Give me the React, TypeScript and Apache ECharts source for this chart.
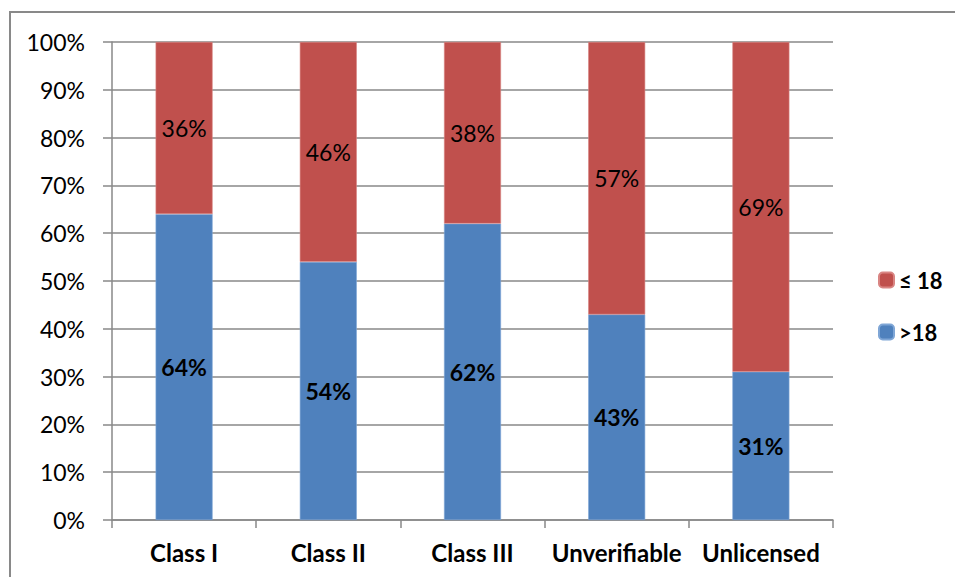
import React, { useEffect, useRef } from "react";
import * as echarts from "echarts";

const categories = ["Class I", "Class II", "Class III", "Unverifiable", "Unlicensed"];
const over18 = [64, 54, 62, 43, 31];
const upTo18 = [36, 46, 38, 57, 69];
const yTicks = [0, 10, 20, 30, 40, 50, 60, 70, 80, 90, 100];
const seriesNames = ["≤ 18", ">18"];

const FONT = "Lato, 'Open Sans', sans-serif";
const GRID_COLOR = "#898989";

export default function App() {
  const ref = useRef<HTMLDivElement>(null);

  useEffect(() => {
    if (!ref.current) return;
    const chart = echarts.init(ref.current, null, { renderer: "svg" });
    chart.setOption({
      animation: false,
      backgroundColor: "#ffffff",
      textStyle: { fontFamily: FONT },
      graphic: [
        {
          type: "rect",
          shape: { x: 10, y: 12, width: 1000, height: 600 },
          style: { fill: "none", stroke: GRID_COLOR, lineWidth: 2 },
          silent: true,
        },
      ],
      grid: { left: 112, right: 122, top: 42, bottom: 57 },
      legend: {
        orient: "vertical",
        left: 873,
        top: 264,
        itemWidth: 15,
        itemHeight: 15,
        itemGap: 30,
        data: seriesNames,
        textStyle: { fontFamily: FONT, fontSize: 22, fontWeight: "bold", color: "#000" },
      },
      xAxis: {
        type: "category",
        data: categories,
        axisLine: { lineStyle: { color: GRID_COLOR, width: 1.5 } },
        axisTick: { show: true, length: 8, lineStyle: { color: GRID_COLOR, width: 1.5 } },
        axisLabel: {
          fontFamily: FONT,
          fontSize: 24,
          fontWeight: "bold",
          color: "#000",
          margin: 20,
          interval: 0,
        },
      },
      yAxis: {
        type: "value",
        min: yTicks[0],
        max: yTicks[yTicks.length - 1],
        interval: 10,
        axisLine: { show: true, lineStyle: { color: GRID_COLOR, width: 1.5 } },
        axisTick: { show: true, length: 9, lineStyle: { color: GRID_COLOR, width: 1.5 } },
        splitLine: { lineStyle: { color: GRID_COLOR, width: 1.5 } },
        axisLabel: {
          fontFamily: FONT,
          fontSize: 23,
          color: "#000",
          margin: 27,
          formatter: (v: number) => `${v}%`,
        },
      },
      series: [
        {
          name: ">18",
          type: "bar",
          stack: "total",
          barWidth: 57,
          data: over18,
          itemStyle: { color: "#4F81BD", borderColor: "#7FA6D6", borderWidth: 0.6 },
          label: {
            show: true,
            position: "inside",
            formatter: "{c}%",
            fontFamily: FONT,
            fontSize: 23,
            fontWeight: "bold",
            color: "#000",
          },
        },
        {
          name: "≤ 18",
          type: "bar",
          stack: "total",
          barWidth: 57,
          data: upTo18,
          itemStyle: { color: "#C0504D", borderColor: "#D98583", borderWidth: 0.6 },
          label: {
            show: true,
            position: "inside",
            formatter: "{c}%",
            fontFamily: FONT,
            fontSize: 23,
            color: "#000",
          },
        },
      ],
    });
    return () => chart.dispose();
  }, []);

  return (
    <div
      ref={ref}
      style={{ position: "fixed", left: 0, top: 0, width: 955, height: 577 }}
    />
  );
}
